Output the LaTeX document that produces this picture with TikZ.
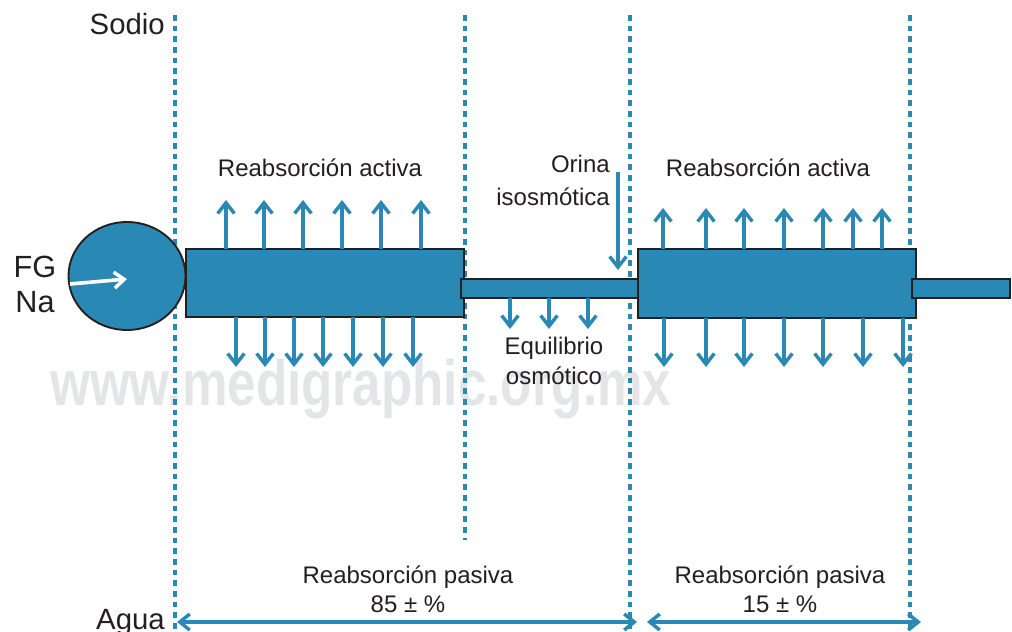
\documentclass[tikz,border=0pt]{standalone}
\usepackage{fontspec}
\setmainfont{Liberation Sans}
\usetikzlibrary{arrows.meta,shapes.geometric}
\definecolor{tblue}{HTML}{2A88B5}
\definecolor{txt}{HTML}{231F20}
\definecolor{wm}{HTML}{E4E5E7}
\tikzset{
  px/.style={x=0.75pt,y=-0.75pt},
  sep/.style={tblue,line width=2.6pt,dash pattern=on 4.2pt off 3.8pt},
  flow/.style={tblue,line width=2.7pt,-{Straight Barb[length=8pt,width=12.5pt,line width=2.6pt]}},
  both/.style={tblue,line width=2.7pt,{Straight Barb[length=7.5pt,width=12pt,line width=2.6pt]}-{Straight Barb[length=7.5pt,width=12pt,line width=2.6pt]}},
  seg/.style={fill=tblue,draw=txt,line width=1.4pt},
  lbl/.style={text=txt,font=\fontsize{18}{21}\selectfont,inner sep=0pt},
  big/.style={text=txt,font=\fontsize{22}{26}\selectfont,inner sep=0pt},
}
\begin{document}
\begin{tikzpicture}[px]
\useasboundingbox (0,0) rectangle (1012,631);
% watermark
\node[text=wm,font=\bfseries\fontsize{48}{50}\selectfont,xscale=0.8,anchor=base west,inner sep=0pt] (wmark) at (50,405) {www.medigraphic.org.mx};
% separators
\coordinate (s1t) at (175,15); \coordinate (s1b) at (175,631);
\coordinate (s2t) at (465,15); \coordinate (s2b) at (465,540);
\coordinate (s3t) at (630,15); \coordinate (s3b) at (630,631);
\coordinate (s4t) at (910,15); \coordinate (s4b) at (910,631);
\draw[sep] (s1t) -- (s1b);
\draw[sep] (s2t) -- (s2b);
\draw[sep] (s3t) -- (s3b);
\draw[sep] (s4t) -- (s4b);
% tubes
\node[seg,ellipse,minimum width=87.75pt,minimum height=81pt,inner sep=0pt] (glom) at (127,276) {};
\draw[seg] (186,249) rectangle (464,317);
\draw[seg] (461,279) rectangle (638,298);
\draw[seg] (638,249) rectangle (916,318);
\draw[seg] (912,279) rectangle (1010,298);
% white arrow in glomerulus
\coordinate (wa) at (70,284); \coordinate (wb) at (127,279);
\draw[white,line width=2.7pt,-{Straight Barb[length=7.5pt,width=12pt,line width=2.6pt]}] (wa) -- (wb);
% active reabsorption arrows (up)
\foreach \x in {226,264,303,342,381,421}{\coordinate (u) at (\x,249); \coordinate (v) at (\x,200); \draw[flow] (u) -- (v);}
\foreach \x in {663,706,744,784,823,853,882}{\coordinate (u) at (\x,249); \coordinate (v) at (\x,208); \draw[flow] (u) -- (v);}
% down arrows
\foreach \x in {236,265,294,323,353,383,413}{\coordinate (u) at (\x,317); \coordinate (v) at (\x,367); \draw[flow] (u) -- (v);}
\foreach \x in {664,706,744,784,823,863,903}{\coordinate (u) at (\x,318); \coordinate (v) at (\x,367); \draw[flow] (u) -- (v);}
\foreach \x in {510,549,588}{\coordinate (u) at (\x,298); \coordinate (v) at (\x,329); \draw[flow] (u) -- (v);}
% orina arrow
\coordinate (oa) at (618,172); \coordinate (ob) at (618,270);
\draw[flow] (oa) -- (ob);
% passive arrows
\coordinate (p1a) at (177,622); \coordinate (p1b) at (637,622);
\coordinate (p2a) at (647,622); \coordinate (p2b) at (921,622);
\draw[both] (p1a) -- (p1b);
\draw[both] (p2a) -- (p2b);
% labels
\node[big,anchor=base east] (sodio) at (165,35) {Sodio};
\node[big,anchor=base east] (agua) at (165,629) {Agua};
\node[big,anchor=base,font=\fontsize{23}{26}\selectfont] (fg) at (35,277) {FG};
\node[big,anchor=base,font=\fontsize{23}{26}\selectfont] (na) at (35,312) {Na};
\node[lbl,anchor=base] (ra1) at (320,176) {Reabsorción activa};
\node[lbl,anchor=base] (ra2) at (768,176) {Reabsorción activa};
\node[lbl,anchor=base east] (or1) at (610,172) {Orina};
\node[lbl,anchor=base east] (or2) at (610,205) {isosmótica};
\node[lbl,anchor=base] (eq1) at (554,354) {Equilibrio};
\node[lbl,anchor=base] (eq2) at (554,384) {osmótico};
\node[lbl,anchor=base] (rp1) at (408,583) {Reabsorción pasiva};
\node[lbl,anchor=base] (pc1) at (408,612) {85 ± \%};
\node[lbl,anchor=base] (rp2) at (780,583) {Reabsorción pasiva};
\node[lbl,anchor=base] (pc2) at (780,612) {15 ± \%};
\end{tikzpicture}
\end{document}
